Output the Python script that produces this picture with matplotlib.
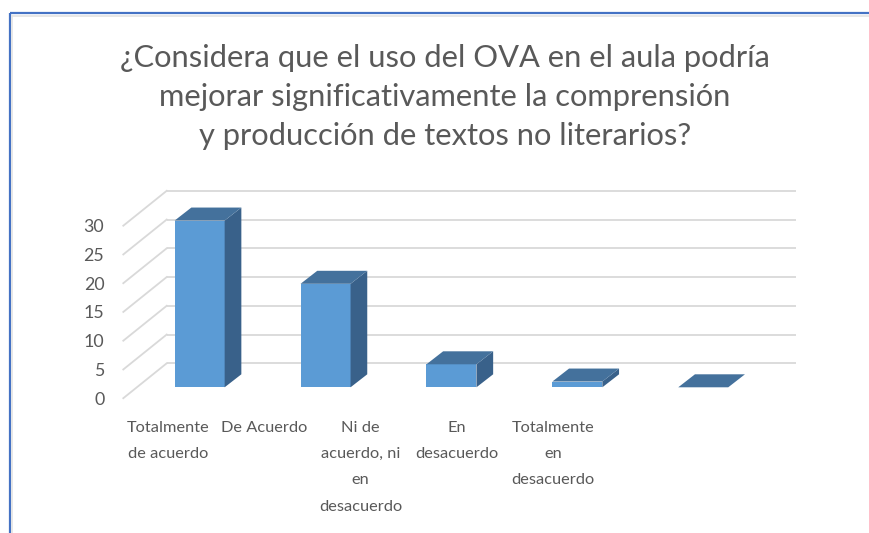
import matplotlib
matplotlib.use("Agg")
import matplotlib.pyplot as plt
from matplotlib.patches import Polygon
from matplotlib.lines import Line2D

# ---------------- data ----------------
categories = ["Totalmente\nde acuerdo", "De Acuerdo", "Ni de\nacuerdo, ni\nen\ndesacuerdo",
              "En\ndesacuerdo", "Totalmente\nen\ndesacuerdo"]
values = [29, 18, 4, 1, 0]
yticks = [0, 5, 10, 15, 20, 25, 30]
title = ("¿Considera que el uso del OVA en el aula podría\n"
         "mejorar significativamente la comprensión\n"
         "y producción de textos no literarios?")

# ---------------- style ----------------
W, H = 870, 533
FONT = "Lato"
TXT = "#595959"
FRONT = "#5B9BD5"
TOP = "#44719C"
SIDE = "#39618A"
GRID = "#D9D9D9"
FRAME = "#4472C4"

PX_X = 125.9   # pixels per category
PX_Y = 5.75    # pixels per unit value
BACK = (30.0, 24.0)     # pixel offset bar-plane -> back wall
FRONTP = (-13.4, -10.9)  # pixel offset bar-plane -> front plane
DEPTH = (16.7, 13.0)    # pixel depth of a bar
BAR_W = 50.0            # pixel width of bar front


def d(off):
    return off[0] / PX_X, off[1] / PX_Y


fig = plt.figure(figsize=(W / 100, H / 100), dpi=100)
fig.patch.set_facecolor("white")

left_px, bottom_px = 136.7, H - 387.3
n = len(categories)
ax = fig.add_axes([left_px / W, bottom_px / H, n * PX_X / W, 30 * PX_Y / H])
ax.set_xlim(-0.5, n - 0.5)
ax.set_ylim(0, 30)
ax.axis("off")

bdx, bdy = d(BACK)
fdx, fdy = d(FRONTP)
ddx, ddy = d(DEPTH)
w = BAR_W / PX_X

# back wall gridlines and side wall diagonals
for v in yticks:
    ax.plot([-0.5 + bdx, n - 0.5 + bdx], [v + bdy, v + bdy], color=GRID, lw=1.3,
            clip_on=False, zorder=1, solid_capstyle="butt")
    ax.plot([-0.5 + fdx, -0.5 + bdx], [v + fdy, v + bdy], color=GRID, lw=1.3,
            clip_on=False, zorder=1)
    ax.text(-0.5 + fdx - 19 / PX_X, v + fdy - 0.25, str(v), ha="right", va="center",
            fontsize=12.8, color=TXT, family=FONT)

# bars
xs = list(range(n))
ax.bar(xs, values, width=w, color=FRONT, zorder=3, clip_on=False)
for i, v in zip(xs, values):
    x0, x1 = i - w / 2, i + w / 2
    top = Polygon([(x0, v), (x1, v), (x1 + ddx, v + ddy), (x0 + ddx, v + ddy)],
                  closed=True, facecolor=TOP, edgecolor="none", zorder=4, clip_on=False)
    side = Polygon([(x1, 0), (x1 + ddx, ddy), (x1 + ddx, v + ddy), (x1, v)],
                   closed=True, facecolor=SIDE, edgecolor="none", zorder=4, clip_on=False)
    ax.add_patch(side)
    ax.add_patch(top)

# category labels (one text per line, at fixed baseline spacing)
lab_x0, lab_step = 168.3, 96.2
lab_base0, lab_lh = 432.0, 26.2
for i, lab in enumerate(categories):
    for k, line in enumerate(lab.split("\n")):
        fig.text((lab_x0 + i * lab_step) / W, 1 - (lab_base0 + k * lab_lh) / H, line,
                 ha="center", va="baseline", fontsize=11.8, color=TXT, family=FONT)

# title (one text per line)
tit_base0, tit_lh = 66.7, 39.2
for k, line in enumerate(title.split("\n")):
    fig.text(445 / W, 1 - (tit_base0 + k * tit_lh) / H, line, ha="center", va="baseline",
             fontsize=22.2, color=TXT, family=FONT)

# chart frame (top and left edges visible)
fig.add_artist(Line2D([10 / W, 1.0], [1 - 13 / H, 1 - 13 / H], transform=fig.transFigure,
                      color=FRAME, lw=1.6, solid_capstyle="butt"))
fig.add_artist(Line2D([10 / W, 10 / W], [0, 1 - 13 / H], transform=fig.transFigure,
                      color=FRAME, lw=1.6, solid_capstyle="butt"))
fig.add_artist(Line2D([12.5 / W, 1.0], [1 - 15.5 / H, 1 - 15.5 / H], transform=fig.transFigure,
                      color="#E3E3E3", lw=1.2))
fig.add_artist(Line2D([12.5 / W, 12.5 / W], [0, 1 - 15.5 / H], transform=fig.transFigure,
                      color="#E3E3E3", lw=1.2))

fig.savefig("out.png", dpi=100)
